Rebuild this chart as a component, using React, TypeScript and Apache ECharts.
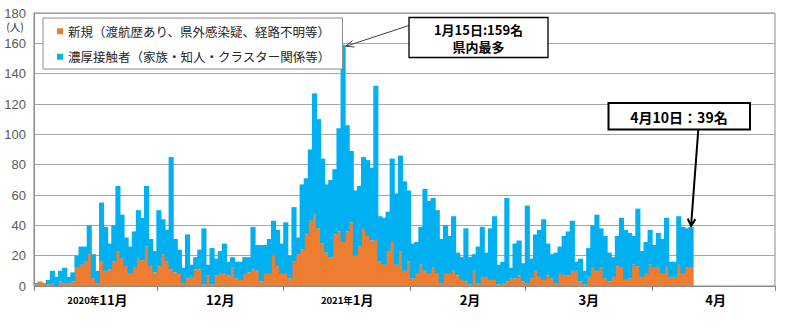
import React, { useEffect, useRef } from "react";
import * as echarts from "echarts";

// ---- axis categories (one per day, Nov 2020 – Apr 2021) ----
const monthNames = ["2020年11月", "12月", "2021年1月", "2月", "3月", "4月"];
const monthYears = [2020, 2020, 2021, 2021, 2021, 2021];
const monthNums = [11, 12, 1, 2, 3, 4];
const monthDays = [30, 31, 31, 28, 31, 30];

// ---- series values (daily, from 2020/11/1 to 2021/4/10) ----
const seriesNames = ["新規（渡航歴あり、県外感染疑、経路不明等）", "濃厚接触者（家族・知人・クラスター関係等）"];

const newCases = [
  1, 3, 2, 1, 2, 0, 3, 2, 2, 3,
  12, 14, 16, 21, 5, 2, 16, 10, 11, 16,
  23, 18, 13, 8, 12, 18, 17, 26, 13, 9,
  13, 21, 16, 11, 9, 8, 2, 5, 6, 11,
  11, 1, 7, 1, 7, 8, 8, 7, 12, 5,
  4, 8, 9, 11, 10, 3, 8, 8, 20, 13,
  8, 8, 5, 16, 21, 24, 34, 43, 47, 38,
  28, 22, 19, 34, 36, 29, 36, 42, 20, 26,
  37, 33, 30, 31, 16, 14, 23, 29, 14, 23,
  10, 16, 5, 8, 14, 10, 8, 12, 8, 2,
  8, 8, 10, 7, 4, 3, 1, 10, 2, 6,
  6, 4, 4, 1, 2, 3, 5, 5, 7, 3,
  2, 5, 10, 6, 4, 7, 5, 2, 8, 7,
  7, 10, 10, 3, 1, 6, 12, 10, 12, 5,
  3, 6, 13, 12, 4, 5, 14, 13, 6, 8,
  14, 12, 12, 8, 12, 6, 6, 14, 8, 12,
  12,
];

const contactCases = [
  1, 0, 0, 3, 8, 6, 7, 10, 4, 6,
  8, 12, 10, 19, 16, 8, 39, 29, 17, 24,
  43, 29, 19, 18, 24, 32, 28, 40, 18, 14,
  37, 23, 21, 74, 22, 16, 10, 29, 8, 8,
  13, 37, 7, 24, 11, 15, 20, 9, 7, 11,
  12, 11, 10, 28, 17, 24, 19, 23, 23, 24,
  20, 34, 15, 36, 11, 43, 37, 47, 80, 72,
  56, 45, 51, 43, 68, 130, 70, 47, 43, 40,
  48, 50, 48, 101, 30, 31, 26, 55, 47, 63,
  59, 47, 23, 21, 25, 54, 48, 46, 42, 29,
  32, 25, 36, 15, 15, 35, 18, 11, 24, 33,
  16, 34, 42, 13, 14, 55, 7, 23, 23, 12,
  51, 13, 24, 31, 40, 21, 16, 20, 18, 26,
  29, 33, 6, 15, 9, 19, 28, 37, 26, 28,
  19, 13, 20, 33, 33, 30, 19, 38, 17, 21,
  23, 15, 23, 23, 33, 10, 10, 32, 31, 26,
  27,
];

const yTicks = { min: 0, max: 180, interval: 20 };
const yUnit = "(人)";

// annotations: category index, total value, text
const peakNote = { index: 75, value: 159, lines: ["1月15日:159名", "県内最多"] };
const lastNote = { index: 160, value: 39, lines: ["4月10日：39名"] };

const ORANGE = "#ED7D31";
const BLUE = "#00B0F0";
const CJK = "'Noto Sans CJK JP', sans-serif";

function buildCategories() {
  const cats: string[] = [];
  const starts: number[] = [];
  const labelAt = new Map<string, string>();
  monthDays.forEach((days, m) => {
    starts.push(cats.length);
    for (let d = 1; d <= days; d++) {
      const key = `${monthYears[m]}/${monthNums[m]}/${d}`;
      if (d === 1 + Math.floor(days / 2)) labelAt.set(key, monthNames[m]);
      cats.push(key);
    }
  });
  return { cats, starts, labelAt };
}

function arrowHead(sx: number, sy: number, tx: number, ty: number, len: number, ang: number) {
  const t = Math.atan2(ty - sy, tx - sx);
  return [
    [tx - len * Math.cos(t - ang), ty - len * Math.sin(t - ang)],
    [tx, ty],
    [tx - len * Math.cos(t + ang), ty - len * Math.sin(t + ang)],
  ];
}

export default function App() {
  const ref = useRef<HTMLDivElement>(null);

  useEffect(() => {
    if (!ref.current) return;
    const chart = echarts.init(ref.current, undefined, { renderer: "svg" });
    const { cats, starts, labelAt } = buildCategories();
    const startSet = new Set(starts);

    chart.setOption({
      animation: false,
      grid: {
        left: 34,
        right: 29,
        top: 13,
        bottom: 42,
        show: true,
        borderColor: "#898989",
        borderWidth: 1,
      },
      legend: {
        data: seriesNames,
        orient: "vertical",
        left: 43,
        top: 18,
        padding: [7, 12, 6, 14],
        itemGap: 13,
        itemWidth: 6,
        itemHeight: 6,
        icon: "rect",
        borderColor: "#8c8c8c",
        borderWidth: 1,
        backgroundColor: "#ffffff",
        textStyle: { fontSize: 12.5, color: "#262626", fontFamily: CJK },
      },
      xAxis: {
        type: "category",
        data: cats,
        boundaryGap: true,
        axisLine: { lineStyle: { color: "#898989" } },
        axisTick: {
          show: true,
          interval: (i: number) => startSet.has(i),
          length: 5,
          lineStyle: { color: "#898989" },
        },
        axisLabel: {
          interval: (_i: number, v: string) => labelAt.has(v),
          margin: 7,
          formatter: (v: string) => {
            const s = labelAt.get(v) || "";
            const k = s.indexOf("年");
            if (k >= 0) return `{y|${s.slice(0, k + 1)}}{m|${s.slice(k + 1)}}`;
            return `{m|${s}}`;
          },
          rich: {
            y: { fontSize: 9.5, fontWeight: "bold", color: "#000", fontFamily: CJK },
            m: { fontSize: 13, fontWeight: "bold", color: "#000", fontFamily: CJK },
          },
        },
        splitLine: { show: false },
      },
      yAxis: {
        type: "value",
        min: yTicks.min,
        max: yTicks.max,
        interval: yTicks.interval,
        axisLine: { show: true, lineStyle: { color: "#898989" } },
        axisTick: { show: false },
        axisLabel: { fontSize: 13, color: "#595959", margin: 8, fontFamily: "'Liberation Sans', Arial, sans-serif" },
        splitLine: { lineStyle: { color: "#a6a6a6", width: 1 } },
      },
      series: [
        {
          name: seriesNames[0],
          type: "bar",
          stack: "total",
          data: newCases,
          itemStyle: { color: ORANGE },
          barWidth: "125%",
        },
        {
          name: seriesNames[1],
          type: "bar",
          stack: "total",
          data: contactCases,
          itemStyle: { color: BLUE },
          barWidth: "125%",
        },
      ],
    });

    // annotations anchored to data points
    const p1 = chart.convertToPixel({ gridIndex: 0 }, [peakNote.index, peakNote.value]) as number[];
    const p2 = chart.convertToPixel({ gridIndex: 0 }, [lastNote.index, lastNote.value]) as number[];
    const t1 = [p1[0] + 2.5, p1[1] + 1.5];
    const s1 = [409, 25.5];
    const t2 = [p2[0], p2[1] - 1];
    const s2 = [698.3, 129.5];

    chart.setOption({
      graphic: [
        {
          type: "text",
          x: 15,
          y: 21.5,
          style: { text: yUnit, font: `10.5px ${CJK}`, fill: "#333", textAlign: "center", textVerticalAlign: "top" },
        },
        {
          type: "line",
          shape: { x1: s1[0], y1: s1[1], x2: t1[0], y2: t1[1] },
          style: { stroke: "#404040", lineWidth: 1 },
        },
        {
          type: "polyline",
          shape: { points: arrowHead(s1[0], s1[1], t1[0], t1[1], 9, 0.38) },
          style: { stroke: "#404040", lineWidth: 1, fill: "none" },
        },
        {
          type: "rect",
          shape: { x: 409, y: 17.5, width: 139, height: 40 },
          style: { fill: "#fff", stroke: "#000", lineWidth: 1.3 },
        },
        {
          type: "text",
          x: 478.5,
          y: 29,
          style: { text: peakNote.lines[0], font: `bold 13px ${CJK}`, fill: "#000", textAlign: "center", textVerticalAlign: "middle" },
        },
        {
          type: "text",
          x: 478.5,
          y: 46.5,
          style: { text: peakNote.lines[1], font: `bold 13px ${CJK}`, fill: "#000", textAlign: "center", textVerticalAlign: "middle" },
        },
        {
          type: "line",
          shape: { x1: s2[0], y1: s2[1], x2: t2[0], y2: t2[1] },
          style: { stroke: "#000", lineWidth: 2 },
        },
        {
          type: "polyline",
          shape: { points: arrowHead(s2[0], s2[1], t2[0], t2[1], 8, 0.5) },
          style: { stroke: "#000", lineWidth: 2, fill: "none" },
        },
        {
          type: "rect",
          shape: { x: 608.5, y: 103, width: 141.5, height: 26.5 },
          style: { fill: "#fff", stroke: "#000", lineWidth: 2 },
        },
        {
          type: "text",
          x: 679,
          y: 116.5,
          style: { text: lastNote.lines[0], font: `bold 14px ${CJK}`, fill: "#000", textAlign: "center", textVerticalAlign: "middle" },
        },
      ],
    });

    return () => chart.dispose();
  }, []);

  return (
    <div
      ref={ref}
      style={{ position: "absolute", left: 0, top: 0, width: 804, height: 328, background: "#fff" }}
    />
  );
}
